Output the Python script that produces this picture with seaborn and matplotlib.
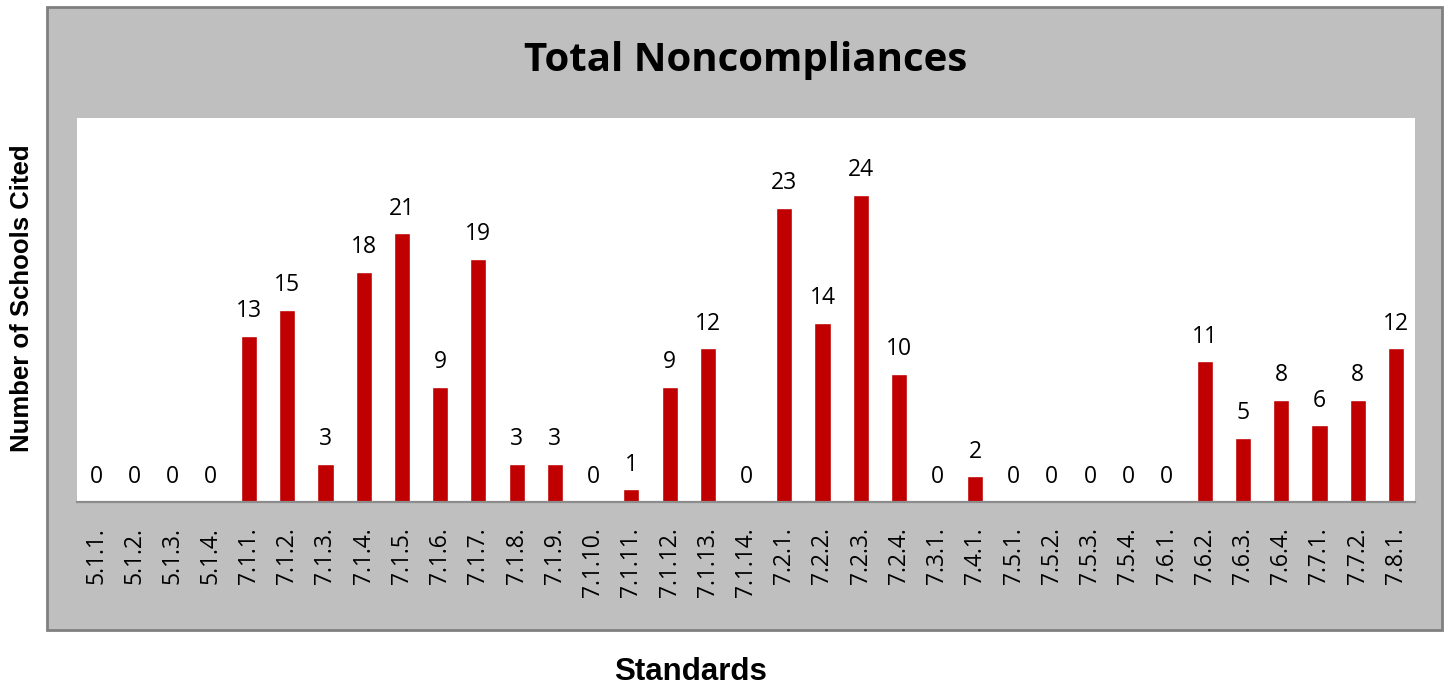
import matplotlib
matplotlib.use("Agg")
import matplotlib.pyplot as plt
import seaborn as sns
import pandas as pd
from matplotlib.patches import Rectangle

# dados do gráfico
normas = ["5.1.1.", "5.1.2.", "5.1.3.", "5.1.4.",
          "7.1.1.", "7.1.2.", "7.1.3.", "7.1.4.", "7.1.5.", "7.1.6.", "7.1.7.",
          "7.1.8.", "7.1.9.", "7.1.10.", "7.1.11.", "7.1.12.", "7.1.13.", "7.1.14.",
          "7.2.1.", "7.2.2.", "7.2.3.", "7.2.4.", "7.3.1.", "7.4.1.",
          "7.5.1.", "7.5.2.", "7.5.3.", "7.5.4.",
          "7.6.1.", "7.6.2.", "7.6.3.", "7.6.4.", "7.7.1.", "7.7.2.", "7.8.1."]
escolas = [0, 0, 0, 0,
           13, 15, 3, 18, 21, 9, 19,
           3, 3, 0, 1, 9, 12, 0,
           23, 14, 24, 10, 0, 2,
           0, 0, 0, 0,
           0, 11, 5, 8, 6, 8, 12]

dados = pd.DataFrame({"norma": normas, "escolas": escolas})

sns.set_theme(style="white")
plt.rcParams['font.family'] = ['Open Sans', 'DejaVu Sans']
plt.rcParams['text.color'] = 'black'

fig = plt.figure(figsize=(14.5, 6.9), dpi=100)

# caixa cinza de fundo (atrás dos eixos)
fundo = Rectangle((0.0324, 0.087), 0.962, 0.903, transform=fig.transFigure,
                  facecolor="#BFBFBF", edgecolor="#808080", linewidth=2, zorder=-10)
fig.add_artist(fundo)

ax = fig.add_axes([0.0531, 0.2725, 0.9228, 0.5565])
ax.set_zorder(1)
sns.barplot(data=dados, x="norma", y="escolas", color="#C00000", saturation=1,
            width=0.42, ax=ax)
ax.set_facecolor("white")
ax.set_ylim(0, 30)
ax.set_xlim(-0.5, len(normas) - 0.5)
ax.bar_label(ax.containers[0], padding=9, fontsize=16.5, color="black")

ax.set_yticks([])
ax.set_xlabel("")
ax.set_ylabel("")
ax.tick_params(axis="x", length=0, pad=18, labelsize=16.5, labelrotation=90, colors="black")
for lab in ax.get_xticklabels():
    lab.set_va("top")
for s in ["top", "left", "right"]:
    ax.spines[s].set_visible(False)
ax.spines["bottom"].set_color("#8C8C8C")
ax.spines["bottom"].set_linewidth(1.6)

fig.text(0.514, 0.913, "Total Noncompliances", ha="center", va="center",
         fontsize=29, fontweight="bold", color="black")
fig.text(0.0155, 0.568, "Number of Schools Cited", ha="center", va="center",
         rotation=90, fontsize=18.5, fontweight="bold",
         family="Liberation Sans", color="black")
fig.text(0.4765, 0.026, "Standards", ha="center", va="center",
         fontsize=22.5, fontweight="bold", family="Liberation Sans", color="black")

fig.savefig("out.png", dpi=100, facecolor="white")
